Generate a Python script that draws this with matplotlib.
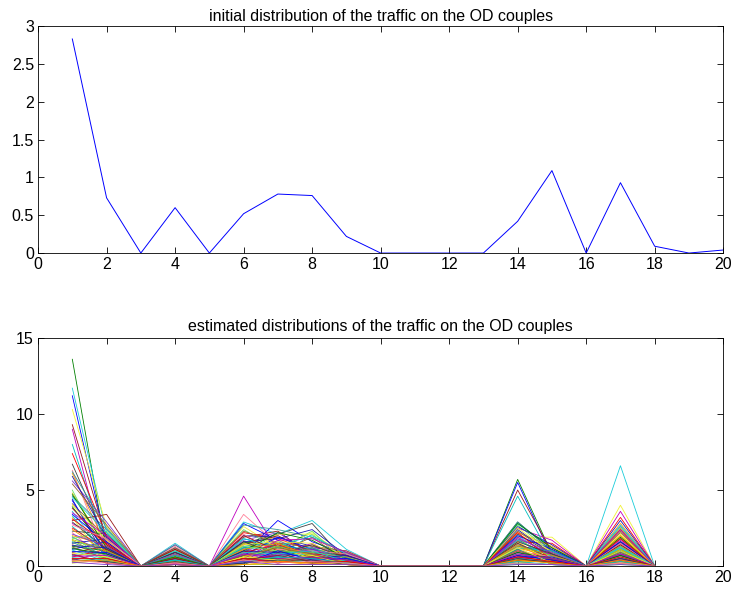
import numpy as np
import matplotlib.pyplot as plt
from matplotlib.ticker import FormatStrFormatter

plt.rcParams['font.family'] = ['Liberation Sans', 'DejaVu Sans']
plt.rcParams['font.size'] = 11.5

# initial traffic on the 20 OD couples
od_index = list(range(1, 21))
initial = [2.83, 0.73, 0.0, 0.60, 0.0, 0.52, 0.78, 0.76, 0.22, 0.0,
           0.0, 0.0, 0.0, 0.42, 1.09, 0.0, 0.93, 0.09, 0.0, 0.04]

# estimated traffic, one value per estimate for each OD couple that is not zero
# (couples 3, 5, 10-13, 16 and 18 are estimated at zero)
od1 = [13.6, 11.7, 11.2, 10.3, 9.3, 9.0, 8.0, 7.4, 6.7, 6.3, 6.1, 5.6, 5.0, 4.8, 4.6, 4.4,
       4.1, 3.9, 3.6, 3.4, 3.2, 3.0, 2.8, 2.6, 2.5, 2.3, 2.2, 2.0, 1.9, 1.8, 1.7, 1.6,
       1.5, 1.4, 1.3, 1.2, 1.1, 1.0, 0.9, 0.8, 0.7, 0.6, 0.5, 0.45, 0.4, 0.35, 0.3, 0.2,
       6.2, 5.9, 5.4, 4.7, 4.5, 4.3, 4.0, 3.8, 3.5, 3.3, 3.1, 2.9, 2.7, 2.4, 2.1, 1.95,
       1.75, 1.55, 1.35, 1.25, 1.15, 1.05, 0.95, 0.85, 0.75, 0.65, 0.55, 0.5, 0.42, 0.38, 0.32, 0.25]
od2 = [0.9, 2.2, 1.4, 2.6, 1.8, 0.3, 1.1, 2.0, 1.6, 0.5, 1.3, 2.9, 0.7, 1.2, 2.4, 0.4,
       1.9, 1.0, 0.6, 1.5, 0.2, 3.4, 1.7, 0.8, 1.1, 2.1, 0.3, 1.4, 0.9, 2.3, 0.5, 1.2,
       1.8, 0.7, 1.0, 0.4, 1.6, 0.6, 1.3, 0.2, 0.9, 1.1, 0.5, 0.8, 0.3, 1.0, 0.6, 0.4,
       2.5, 1.9, 2.7, 1.2, 2.2, 0.8, 1.7, 1.4, 2.0, 0.6, 1.5, 1.1, 1.8, 0.9, 1.3, 0.4,
       1.0, 0.7, 1.2, 0.5, 0.8, 0.3, 0.9, 0.6, 0.2, 0.7, 0.4, 0.5, 0.3, 0.2, 0.4, 0.1]
od4 = [0.3, 1.5, 0.8, 1.2, 0.5, 1.4, 0.2, 1.0, 0.6, 1.3, 0.9, 0.4, 1.1, 0.7, 0.2, 1.2,
       0.5, 0.8, 1.0, 0.3, 0.6, 0.9, 0.1, 0.7, 1.1, 0.4, 0.8, 0.2, 0.5, 1.0, 0.3, 0.6,
       0.9, 0.1, 0.4, 0.7, 0.2, 0.5, 0.8, 0.3, 0.1, 0.6, 0.4, 0.2, 0.5, 0.3, 0.1, 0.2,
       1.4, 0.9, 1.2, 0.6, 1.0, 0.4, 0.8, 1.1, 0.3, 0.7, 0.5, 0.9, 0.2, 0.6, 0.8, 0.4,
       0.3, 0.7, 0.5, 0.2, 0.6, 0.4, 0.1, 0.3, 0.5, 0.2, 0.4, 0.1, 0.3, 0.2, 0.1, 0.1]
od6 = [1.2, 2.9, 0.8, 2.6, 1.9, 4.6, 0.5, 2.2, 1.5, 3.4, 0.9, 1.7, 2.4, 0.4, 1.3, 2.0,
       0.7, 1.6, 1.1, 2.8, 0.6, 1.4, 0.3, 1.8, 1.0, 0.5, 2.1, 0.8, 1.2, 0.2, 1.5, 0.9,
       0.4, 1.1, 0.7, 1.3, 0.3, 0.6, 1.0, 0.2, 0.8, 0.5, 0.1, 0.4, 0.7, 0.3, 0.2, 0.1,
       2.7, 1.6, 2.3, 1.0, 1.8, 0.7, 1.4, 2.0, 0.5, 1.2, 0.9, 1.6, 0.4, 1.1, 0.8, 1.3,
       0.6, 0.3, 1.0, 0.7, 0.5, 0.9, 0.2, 0.6, 0.4, 0.8, 0.3, 0.5, 0.2, 0.4, 0.1, 0.3]
od7 = [1.5, 2.1, 3.0, 1.2, 2.3, 1.0, 0.6, 1.8, 2.1, 1.4, 0.8, 2.2, 1.1, 0.5, 1.6, 1.9,
       0.9, 1.3, 0.4, 1.7, 2.1, 2.0, 0.7, 1.2, 0.3, 1.5, 0.8, 1.1, 0.6, 1.4, 0.9, 0.2,
       1.3, 0.5, 1.0, 0.7, 0.4, 1.2, 0.3, 0.8, 0.6, 0.2, 0.9, 0.5, 0.3, 0.7, 0.4, 0.1,
       2.4, 1.8, 1.5, 2.2, 1.3, 1.9, 1.6, 1.0, 1.7, 1.2, 1.4, 0.8, 1.1, 1.5, 0.7, 1.0,
       1.3, 0.6, 0.9, 1.2, 0.5, 0.8, 1.0, 0.4, 0.7, 0.5, 0.6, 0.3, 0.4, 0.2, 0.3, 0.1]
od8 = [0.9, 3.0, 1.6, 2.2, 0.7, 1.2, 2.1, 1.0, 2.8, 0.5, 1.4, 0.8, 2.3, 1.1, 0.6, 1.3,
       1.9, 0.4, 1.0, 0.7, 2.1, 0.9, 1.5, 0.3, 1.2, 0.6, 0.8, 1.0, 0.4, 0.7, 1.1, 0.5,
       0.9, 0.3, 0.6, 0.8, 0.2, 0.5, 0.7, 0.4, 0.3, 0.6, 0.2, 0.4, 0.1, 0.3, 0.2, 0.1,
       1.9, 2.4, 1.3, 1.7, 2.0, 1.1, 1.5, 0.9, 1.8, 1.2, 0.8, 1.4, 1.0, 0.6, 1.1, 0.9,
       0.7, 1.2, 0.5, 0.8, 0.6, 1.0, 0.4, 0.7, 0.3, 0.6, 0.5, 0.2, 0.4, 0.3, 0.2, 0.1]
od9 = [0.5, 1.1, 0.8, 0.6, 0.9, 1.0, 0.4, 0.7, 0.3, 0.8, 0.5, 0.6, 0.2, 0.9, 0.4, 0.7,
       0.3, 0.5, 0.6, 0.2, 0.4, 0.8, 0.3, 0.5, 0.1, 0.6, 0.4, 0.2, 0.7, 0.3, 0.5, 0.1,
       0.4, 0.6, 0.2, 0.3, 0.5, 0.1, 0.4, 0.2, 0.3, 0.1, 0.2, 0.4, 0.1, 0.2, 0.3, 0.1,
       0.9, 0.7, 1.0, 0.5, 0.8, 0.6, 0.4, 0.7, 0.9, 0.3, 0.6, 0.5, 0.8, 0.2, 0.4, 0.6,
       0.3, 0.5, 0.7, 0.2, 0.4, 0.3, 0.5, 0.1, 0.3, 0.4, 0.2, 0.3, 0.1, 0.2, 0.1, 0.1]
od14 = [5.7, 2.8, 5.5, 1.9, 5.0, 2.5, 4.6, 1.6, 2.9, 0.9, 2.2, 1.4, 2.7, 0.6, 1.8, 2.4,
        1.1, 0.4, 2.0, 1.3, 0.8, 1.7, 0.3, 1.5, 1.0, 2.1, 0.5, 1.2, 0.7, 1.9, 0.2, 1.4,
        0.9, 0.6, 1.1, 0.3, 0.8, 1.6, 0.4, 1.0, 0.2, 0.7, 0.5, 1.2, 0.3, 0.6, 0.1, 0.4,
        2.9, 2.6, 2.3, 2.8, 1.7, 2.0, 2.5, 1.5, 1.9, 1.2, 2.2, 1.6, 1.0, 1.4, 1.8, 0.8,
        1.3, 1.1, 0.6, 1.0, 0.9, 0.5, 0.7, 1.2, 0.4, 0.8, 0.3, 0.6, 0.5, 0.2, 0.4, 0.1]
od15 = [0.8, 1.2, 0.6, 1.9, 0.9, 1.7, 0.5, 1.5, 1.0, 0.4, 1.3, 0.7, 0.9, 1.1, 0.3, 0.8,
        1.2, 0.5, 0.6, 1.0, 0.2, 0.7, 0.9, 0.4, 0.5, 0.8, 0.3, 0.6, 1.0, 0.2, 0.4, 0.7,
        0.3, 0.5, 0.1, 0.6, 0.4, 0.2, 0.3, 0.5, 0.1, 0.2, 0.4, 0.1, 0.3, 0.2, 0.1, 0.2,
        1.0, 1.4, 0.8, 1.2, 0.6, 1.1, 0.9, 0.5, 0.7, 1.0, 0.4, 0.8, 0.6, 0.3, 0.9, 0.5,
        0.7, 0.2, 0.6, 0.4, 0.5, 0.3, 0.4, 0.2, 0.3, 0.5, 0.1, 0.3, 0.2, 0.1, 0.2, 0.1]
od17 = [1.8, 6.6, 1.2, 4.0, 2.4, 3.6, 0.9, 3.2, 2.0, 1.5, 2.8, 0.7, 1.9, 2.5, 1.1, 0.5,
        2.2, 1.6, 1.3, 0.8, 2.0, 1.0, 1.7, 0.4, 1.4, 0.6, 1.2, 0.9, 1.8, 0.3, 1.1, 0.7,
        1.5, 0.5, 0.8, 1.0, 0.2, 0.6, 1.3, 0.4, 0.9, 0.3, 0.7, 0.5, 0.2, 0.4, 0.1, 0.3,
        2.6, 3.0, 2.3, 1.9, 2.7, 1.6, 2.1, 1.4, 2.4, 1.2, 1.8, 1.0, 1.5, 2.0, 0.8, 1.3,
        1.1, 0.6, 1.6, 0.9, 0.7, 1.2, 0.5, 1.0, 0.4, 0.8, 0.3, 0.6, 0.5, 0.2, 0.4, 0.1]

colours = [(0, 0.5, 0), (0.1, 0.8, 0.85), (0, 0, 1), (0.95, 0.95, 0.2), (0.6, 0.1, 0.1),
           (0.75, 0, 0.75), (0, 0.75, 0.75), (1, 0, 0), (0.25, 0.25, 0.25),
           (1, 0.5, 0.6), (1, 0.6, 0), (0.5, 0.2, 0.8), (0.4, 0.9, 0.4),
           (0.75, 0.75, 0), (0.2, 0.6, 0.6), (0.1, 0.1, 0.7), (0.6, 0.4, 0.2)]

# rebuild the full 18-couple estimates, zeros where no traffic is estimated
n_est = len(od1)
zero = np.zeros(n_est)
estimates = np.column_stack([od1, od2, zero, od4, zero, od6, od7, od8, od9, zero,
                             zero, zero, zero, od14, od15, zero, od17, zero])
est_index = np.arange(1, estimates.shape[1] + 1)

fig = plt.figure(figsize=(7.32, 5.94), dpi=100)
ax1 = fig.add_axes([0.052, 0.574, 0.936, 0.382])
ax2 = fig.add_axes([0.052, 0.047, 0.936, 0.384])

ax1.plot(od_index, initial, color=(0, 0, 1), lw=0.7)
ax1.set_xlim(0, 20)
ax1.set_ylim(0, 3)
ax1.set_yticks(np.arange(0, 3.01, 0.5))
ax1.set_title('initial distribution of the traffic on the OD couples', fontsize=11.5, pad=4)

for i in range(n_est):
    ax2.plot(est_index, estimates[i], color=colours[i % len(colours)], lw=0.6)
ax2.set_xlim(0, 20)
ax2.set_ylim(0, 15)
ax2.set_yticks([0, 5, 10, 15])
ax2.set_title('estimated distributions of the traffic on the OD couples', fontsize=11.5, pad=5)

for ax in (ax1, ax2):
    ax.set_xticks(range(0, 21, 2))
    ax.yaxis.set_major_formatter(FormatStrFormatter('%g'))
    ax.tick_params(direction='in', top=True, right=True, length=4, width=0.6,
                   labelsize=11.5, pad=3)
    for s in ax.spines.values():
        s.set_linewidth(0.6)

fig.savefig('out.png', dpi=100)
